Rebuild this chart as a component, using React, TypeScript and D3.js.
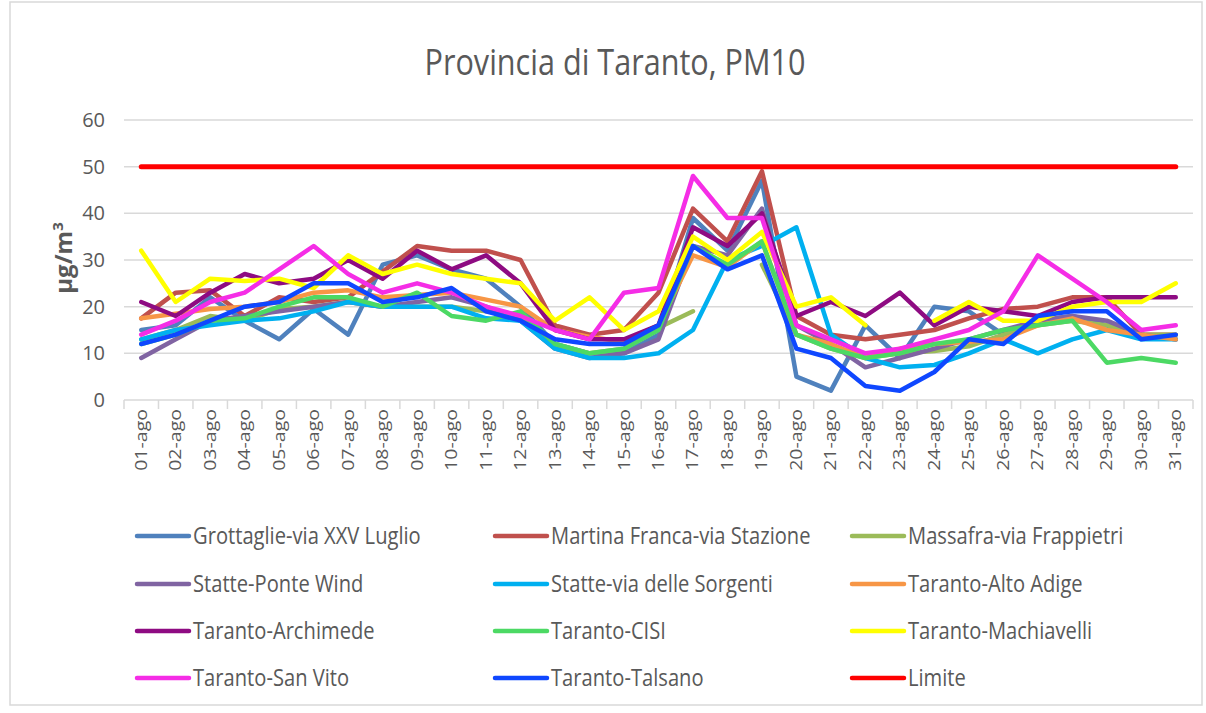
import React from 'react';
import * as d3 from 'd3';

// categorie (giorni di agosto)
const days = [
  '01-ago', '02-ago', '03-ago', '04-ago', '05-ago', '06-ago', '07-ago', '08-ago',
  '09-ago', '10-ago', '11-ago', '12-ago', '13-ago', '14-ago', '15-ago', '16-ago',
  '17-ago', '18-ago', '19-ago', '20-ago', '21-ago', '22-ago', '23-ago', '24-ago',
  '25-ago', '26-ago', '27-ago', '28-ago', '29-ago', '30-ago', '31-ago',
];

const yTicks = [0, 10, 20, 30, 40, 50, 60];

// valori PM10 (µg/m3)
const grottaglie = [15, 16, 22, 17, 13, 19.5, 14, 29, 31, 28, 26, 20, 12, 10, 10, 14, 39, 32, 47, 5, 2, 16, 9, 20, 19, 14, 17, 18, 16, 14, 13];
const martinaFranca = [17.5, 23, 23.5, 18, 22, 21, 22, 27.5, 33, 32, 32, 30, 16, 14, 15, 23, 41, 34, 49, 18, 14, 13, 14, 15, 17.5, 19.5, 20, 22, 22, 14, 14];
const massafra = [13, 15, 18, 17, 19.5, 20, 21, 20, 20, 20, 19, 18, 12, 10, 11, 15.5, 19, null, 29, 14, 11, 9, 10, 10.5, 11.5, 14, 16, 17, 16, 14, 14];
const statteponte = [9, 13, 17, 18, 19, 20, 21, 20, 21, 22, 20, 17, 11, 9, 10, 13, 33, 31, 41, 16, 12, 7, 9, 11, 13, 15, 17, 18, 17, 14, 13];
const statteSorgenti = [13, 15, 16, 17, 17.5, 19, 21, 20, 20, 20, 17.5, 17, 11, 9, 9, 10, 15, 30, 33, 37, 14, 9, 7, 7.5, 10, 13, 10, 13, 15, 13, 13];
const altoAdige = [17.5, 18.5, 19.5, 20, 21, 23, 23.5, 22, 22.5, 23, 21.5, 20, 15, 13.5, 12.5, 16, 31, 28.5, 34, 14, 12, 9, 11, 12, 12.5, 13, 16, 17.5, 15, 14, 13];
const archimede = [21, 18, 23, 27, 25, 26, 30, 26, 32, 28, 31, 25, 15, 13, 13, 16, 37, 33, 40, 18, 21, 18, 23, 16, 20, 19, 18, 21, 22, 22, 22];
const cisi = [12, 14, 17, 17.5, 20, 22, 22, 20, 23, 18, 17, 19, 12, 10, 11, 15, 33, 29, 34, 14, 11, 9, 10, 12, 13, 15, 16, 17, 8, 9, 8];
const machiavelli = [32, 21, 26, 25.5, 26, 24, 31, 27, 29, 27, 26, 25, 17, 22, 15, 19, 35, 30, 36, 20, 22, 16, null, 17, 21, 17, 17, 20, 21, 21, 25];
const sanVito = [14, 17, 21, 23, 28, 33, 27, 23, 25, 23, 20, 18, 15, 13, 23, 24, 48, 39, 39, 16, 13, 10, 11, 13, 15, 19, 31, 26, 21, 15, 16];
const talsano = [12, 14, 17, 20, 21, 25, 25, 21, 22, 24, 19, 17, 13, 12, 12, 16, 33, 28, 31, 11, 9, 3, 2, 6, 13, 12, 18, 19, 19, 13, 14];
const limite = days.map(() => 50);

const seriesNames = [
  'Grottaglie-via XXV Luglio', 'Martina Franca-via Stazione', 'Massafra-via Frappietri',
  'Statte-Ponte Wind', 'Statte-via delle Sorgenti', 'Taranto-Alto Adige',
  'Taranto-Archimede', 'Taranto-CISI', 'Taranto-Machiavelli',
  'Taranto-San Vito', 'Taranto-Talsano', 'Limite',
];
const seriesValues = [
  grottaglie, martinaFranca, massafra, statteponte, statteSorgenti, altoAdige,
  archimede, cisi, machiavelli, sanVito, talsano, limite,
];
const seriesColors = [
  '#4F81BD', '#C0504D', '#9BBB59', '#8064A2', '#00B0F0', '#F79646',
  '#8E0B82', '#4CD964', '#FFFF00', '#F52DE6', '#0F47FF', '#FF0000',
];

const W = 1206;
const H = 713;
const FONT = "'Open Sans', 'Liberation Sans', sans-serif";
const TXT = '#595959';

const App = () => {
  const x = d3.scaleBand<string>().domain(days).range([124, 1193]).padding(0);
  const y = d3.scaleLinear().domain([0, 60]).range([400, 120]);
  const cx = (d: string) => (x(d) as number) + x.bandwidth() / 2;

  const line = d3.line<number | null>()
    .defined(v => v !== null)
    .x((_, i) => cx(days[i]))
    .y(v => y(v as number));

  const legendCols = [137, 495, 852];
  const legendRows = [536, 584, 631, 678];

  return (
    <svg width={W} height={H} style={{ position: 'absolute', top: 0, left: 0, background: '#fff' }}
      fontFamily={FONT}>
      <rect x={10} y={2} width={1192} height={703} fill="#fff" stroke="#D9D9D9" strokeWidth={1.5} />

      <text transform={`translate(615,75) scale(0.85,1)`} textAnchor="middle" fontSize={36} fill={TXT}>
        Provincia di Taranto, PM10
      </text>

      {/* griglia */}
      {yTicks.filter(t => t > 0).map(t => (
        <line key={t} x1={124} x2={1193} y1={y(t)} y2={y(t)} stroke="#D9D9D9" strokeWidth={1.5} />
      ))}
      <line x1={124} x2={1193} y1={y(0)} y2={y(0)} stroke="#D9D9D9" strokeWidth={1.5} />
      {days.map(d => (
        <line key={d} x1={x(d)} x2={x(d)} y1={y(0)} y2={y(0) + 9} stroke="#D9D9D9" strokeWidth={1.5} />
      ))}
      <line x1={1193} x2={1193} y1={y(0)} y2={y(0) + 9} stroke="#D9D9D9" strokeWidth={1.5} />

      {yTicks.map(t => (
        <text key={t} x={105} y={y(t)} dy="0.35em" textAnchor="end" fontSize={20} fill={TXT}>{t}</text>
      ))}

      <text transform={`translate(72,258) rotate(-90)`} textAnchor="middle" fontSize={24} fontWeight="bold" fill={TXT}>
        µg/m<tspan dy={-9} fontSize={15}>3</tspan>
      </text>

      {days.map(d => (
        <text key={d} transform={`translate(${cx(d) + 5.5},409) rotate(-90) scale(1.15,1)`} textAnchor="end"
          fontSize={17} fill={TXT}>{d}</text>
      ))}

      {/* serie */}
      {seriesValues.map((vals, i) => (
        <path key={seriesNames[i]} d={line(vals) as string} fill="none" stroke={seriesColors[i]}
          strokeWidth={i === 11 ? 5 : 4.5} strokeLinejoin="round" strokeLinecap="round" />
      ))}

      {/* legenda */}
      {seriesNames.map((name, i) => {
        const lx = legendCols[i % 3];
        const ly = legendRows[Math.floor(i / 3)];
        return (
          <g key={name}>
            <line x1={lx} x2={lx + 52} y1={ly} y2={ly} stroke={seriesColors[i]} strokeWidth={4.5} strokeLinecap="round" />
            <text transform={`translate(${lx + 56},${ly}) scale(0.84,1)`} dy="0.35em" fontSize={24} fill={TXT}>{name}</text>
          </g>
        );
      })}
    </svg>
  );
};

export default App;
